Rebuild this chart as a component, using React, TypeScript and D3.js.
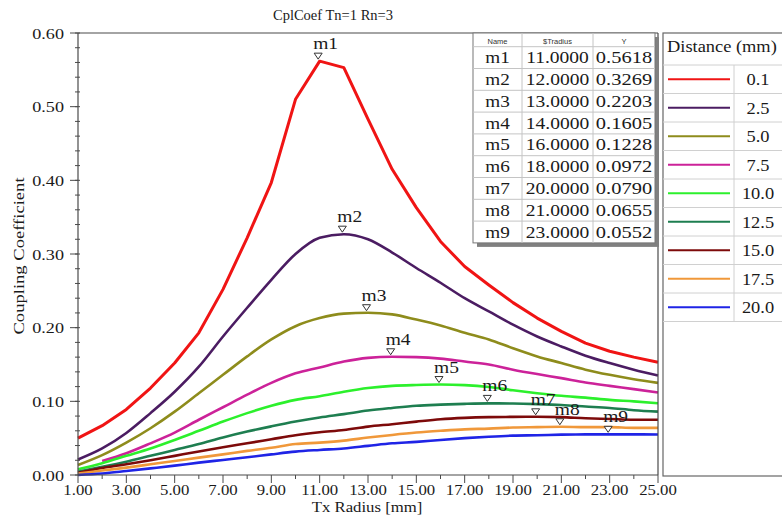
import React from "react";
import * as d3 from "d3";

const radius = [1, 2, 3, 4, 5, 6, 7, 8, 9, 10, 11, 12, 13, 14, 15, 16, 17, 18, 19, 20, 21, 22, 23, 24, 25];

const dist01 = [0.050, 0.067, 0.089, 0.118, 0.152, 0.193, 0.252, 0.322, 0.397, 0.510, 0.5618, 0.553, 0.483, 0.415, 0.363, 0.317, 0.283, 0.258, 0.234, 0.213, 0.195, 0.179, 0.168, 0.160, 0.153];
const dist25 = [0.021, 0.036, 0.057, 0.084, 0.113, 0.147, 0.188, 0.227, 0.265, 0.300, 0.322, 0.3269, 0.320, 0.302, 0.281, 0.261, 0.240, 0.222, 0.204, 0.188, 0.1745, 0.162, 0.152, 0.143, 0.135];
const dist50 = [0.0136, 0.027, 0.044, 0.0635, 0.086, 0.111, 0.136, 0.161, 0.184, 0.202, 0.213, 0.219, 0.2203, 0.218, 0.211, 0.203, 0.193, 0.184, 0.172, 0.161, 0.152, 0.143, 0.136, 0.130, 0.125];
const dist75 = [null, 0.019, 0.0295, 0.043, 0.0576, 0.075, 0.092, 0.109, 0.125, 0.138, 0.146, 0.154, 0.159, 0.1605, 0.160, 0.158, 0.154, 0.150, 0.143, 0.137, 0.1315, 0.1256, 0.121, 0.1166, 0.112];
const dist100 = [0.0077, 0.016, 0.026, 0.036, 0.0476, 0.060, 0.0725, 0.084, 0.094, 0.102, 0.107, 0.113, 0.118, 0.121, 0.1222, 0.1228, 0.1220, 0.1195, 0.115, 0.111, 0.1075, 0.105, 0.102, 0.100, 0.0975];
const dist125 = [0.0045, 0.011, 0.018, 0.026, 0.034, 0.042, 0.051, 0.059, 0.066, 0.0725, 0.078, 0.0826, 0.0875, 0.091, 0.094, 0.0955, 0.0966, 0.0972, 0.0970, 0.0962, 0.095, 0.093, 0.091, 0.088, 0.086];
const dist150 = [0.003, 0.0095, 0.0145, 0.020, 0.026, 0.032, 0.0377, 0.043, 0.0485, 0.054, 0.058, 0.061, 0.0657, 0.069, 0.0725, 0.0757, 0.0775, 0.0785, 0.0789, 0.0790, 0.0785, 0.077, 0.076, 0.075, 0.075];
const dist175 = [0.002, 0.006, 0.010, 0.0145, 0.019, 0.0236, 0.028, 0.0327, 0.037, 0.042, 0.044, 0.0467, 0.0508, 0.0544, 0.0576, 0.060, 0.062, 0.063, 0.0645, 0.065, 0.0655, 0.065, 0.065, 0.064, 0.064];
const dist200 = [0.000, 0.002, 0.0054, 0.009, 0.0127, 0.0168, 0.0204, 0.024, 0.028, 0.0317, 0.034, 0.036, 0.0395, 0.043, 0.045, 0.0476, 0.050, 0.052, 0.0535, 0.054, 0.0548, 0.0551, 0.0552, 0.0552, 0.055];

const seriesValues = [dist01, dist25, dist50, dist75, dist100, dist125, dist150, dist175, dist200];
const distanceLabels = ["0.1", "2.5", "5.0", "7.5", "10.0", "12.5", "15.0", "17.5", "20.0"];
const seriesColors = ["#f01414", "#4b1c62", "#8e8c1c", "#cc2299", "#2cf02c", "#1e7e50", "#7d0a0a", "#f0983a", "#1f24e6"];

const markerNames = ["m1", "m2", "m3", "m4", "m5", "m6", "m7", "m8", "m9"];
const markerRadius = [11, 12, 13, 14, 16, 18, 20, 21, 23];
const markerY = [0.5618, 0.3269, 0.2203, 0.1605, 0.1228, 0.0972, 0.0790, 0.0655, 0.0552];

const yTicks = [0, 0.1, 0.2, 0.3, 0.4, 0.5, 0.6];
const xTicks = [1, 3, 5, 7, 9, 11, 13, 15, 17, 19, 21, 23, 25];

const SERIF = "'Liberation Serif', 'Times New Roman', serif";
const SANS = "'Liberation Sans', Arial, sans-serif";

function T({ x, y, size, sx = 1, anchor = "start", rotate = 0, fill = "#1a1a1a", family = SERIF, children }: any) {
  const tr = `translate(${x},${y})${rotate ? ` rotate(${rotate})` : ""} scale(${sx},1)`;
  return (
    <text transform={tr} fontSize={size} textAnchor={anchor} fontFamily={family} fill={fill}>
      {children}
    </text>
  );
}

export default function App() {
  const W = 782, H = 520;
  const left = 78, right = 658, top = 33, bottom = 475;
  const x = d3.scaleLinear().domain([1, 25]).range([left, right]);
  const y = d3.scaleLinear().domain([0, 0.6]).range([bottom, top]);

  const makeLine = (smooth: boolean) =>
    d3
      .line<any>()
      .defined((d: any) => d[1] !== null)
      .x((d: any) => x(d[0]))
      .y((d: any) => y(d[1]))
      .curve(smooth ? d3.curveMonotoneX : d3.curveLinear);

  const yMinor = d3.range(0, 0.6001, 0.02);
  const xMinor = d3.range(2, 25, 2);

  // table layout
  const tCols = [473, 522, 593, 655];
  const tTop = 33, tHead = 46.7, tRow = 21.8;
  const tBottom = tHead + tRow * markerNames.length;
  // legend layout
  const lLeft = 663, lTop = 33, lHead = 65, lRow = 28.5, lDiv = 734, lBottom = 476;
  const lRowsBottom = lHead + lRow * distanceLabels.length;

  return (
    <svg width={W} height={H} style={{ position: "absolute", left: 0, top: 0, background: "#fff" }}>
      <rect x={0} y={0} width={W} height={H} fill="#fff" />
      {/* title */}
      <T x={333} y={20} size={14.5} anchor="middle">CplCoef Tn=1 Rn=3</T>

      {/* curves */}
      <g>
        {seriesValues.map((vals, i) => (
          <path
            key={i}
            d={makeLine(i !== 0)(radius.map((r, j) => [r, vals[j]])) || ""}
            fill="none"
            stroke={seriesColors[i]}
            strokeWidth={i === 0 ? 3 : 2.6}
            strokeLinejoin="round"
          />
        ))}
      </g>

      {/* frame */}
      <g stroke="#4a4a4a" strokeWidth={1.2} fill="none">
        <line x1={left} y1={top} x2={right} y2={top} />
        <line x1={left} y1={top} x2={left} y2={bottom} />
        <line x1={left} y1={bottom} x2={right} y2={bottom} />
        <line x1={right} y1={top} x2={right} y2={bottom} />
      </g>

      {/* ticks */}
      <g stroke="#4a4a4a" strokeWidth={1}>
        {yMinor.map((v, i) => (
          <line key={"ym" + i} x1={left - 3} x2={left + 2} y1={y(v)} y2={y(v)} />
        ))}
        {yTicks.map((v, i) => (
          <line key={"yM" + i} x1={left - 8} x2={left} y1={y(v)} y2={y(v)} />
        ))}
        {xMinor.map((v, i) => (
          <line key={"xm" + i} x1={x(v)} x2={x(v)} y1={bottom} y2={bottom + 4} />
        ))}
        {xTicks.map((v, i) => (
          <line key={"xM" + i} x1={x(v)} x2={x(v)} y1={bottom} y2={bottom + 8} />
        ))}
      </g>
      {yTicks.map((v, i) => (
        <T key={"yl" + i} x={64} y={y(v) + 5.5} size={15.5} sx={1.17} anchor="end">
          {d3.format(".2f")(v)}
        </T>
      ))}
      {xTicks.map((v, i) => (
        <T key={"xl" + i} x={x(v)} y={495} size={15.5} sx={1.08} anchor="middle">
          {d3.format(".2f")(v)}
        </T>
      ))}

      {/* axis labels */}
      <T x={24} y={256} size={15.5} sx={1.2} anchor="middle" rotate={-90}>Coupling Coefficient</T>
      <T x={367} y={512} size={15.5} sx={1.08} anchor="middle">Tx Radius [mm]</T>

      {/* markers */}
      {markerNames.map((m, i) => {
        const cx = x(markerRadius[i]) - 1.5;
        const ty = y(markerY[i]) - 2;
        return (
          <g key={m}>
            <path
              d={`M${cx - 4},${ty - 6}L${cx + 4},${ty - 6}L${cx},${ty}Z`}
              fill="#fff"
              stroke="#333"
              strokeWidth={1}
            />
            <T x={cx - 5} y={ty - 10} size={16} sx={1.22}>{m}</T>
          </g>
        );
      })}

      {/* marker table */}
      <rect x={tCols[0] + 4} y={tTop + 4} width={tCols[3] - tCols[0]} height={tBottom - tTop} fill="#808080" />
      <rect x={tCols[0]} y={tTop} width={tCols[3] - tCols[0]} height={tBottom - tTop} fill="#fff" stroke="#777" strokeWidth={1} />
      <g stroke="#c4c4c4" strokeWidth={1}>
        {[tCols[1], tCols[2]].map((cx, i) => (
          <line key={"tc" + i} x1={cx} x2={cx} y1={tTop} y2={tBottom} />
        ))}
        {markerNames.map((_, i) => (
          <line key={"tr" + i} x1={tCols[0]} x2={tCols[3]} y1={tHead + tRow * i} y2={tHead + tRow * i} />
        ))}
      </g>
      {["Name", "$Tradius", "Y"].map((h, i) => (
        <T key={h} x={(tCols[i] + tCols[i + 1]) / 2} y={43.5} size={7.5} anchor="middle" family={SANS} fill="#333">
          {h}
        </T>
      ))}
      {markerNames.map((m, i) => {
        const by = tHead + tRow * i + 16.5;
        return (
          <g key={"row" + m}>
            <T x={(tCols[0] + tCols[1]) / 2} y={by} size={16} sx={1.2} anchor="middle">{m}</T>
            <T x={(tCols[1] + tCols[2]) / 2} y={by} size={16} sx={1.22} anchor="middle">
              {d3.format(".4f")(markerRadius[i])}
            </T>
            <T x={(tCols[2] + tCols[3]) / 2} y={by} size={16} sx={1.28} anchor="middle">
              {d3.format(".4f")(markerY[i])}
            </T>
          </g>
        );
      })}

      {/* legend */}
      <rect x={lLeft} y={lTop} width={W - lLeft + 10} height={lBottom - lTop} fill="#fff" stroke="#666" strokeWidth={1.2} />
      <g stroke="#d0d0d0" strokeWidth={1}>
        {distanceLabels.map((_, i) => (
          <line key={"lr" + i} x1={lLeft} x2={W} y1={lHead + lRow * i} y2={lHead + lRow * i} />
        ))}
        <line x1={lLeft} x2={W} y1={lRowsBottom} y2={lRowsBottom} />
        <line x1={lDiv} x2={lDiv} y1={lHead} y2={lRowsBottom} />
      </g>
      <T x={667} y={52} size={16} sx={1.15}>Distance  (mm)</T>
      {distanceLabels.map((lab, i) => {
        const cy = lHead + lRow * i + lRow / 2;
        return (
          <g key={"lg" + i}>
            <line x1={668} x2={730} y1={cy} y2={cy} stroke={seriesColors[i]} strokeWidth={2.2} />
            <T x={758} y={cy + 6} size={16} sx={1.15} anchor="middle">{lab}</T>
          </g>
        );
      })}
    </svg>
  );
}
